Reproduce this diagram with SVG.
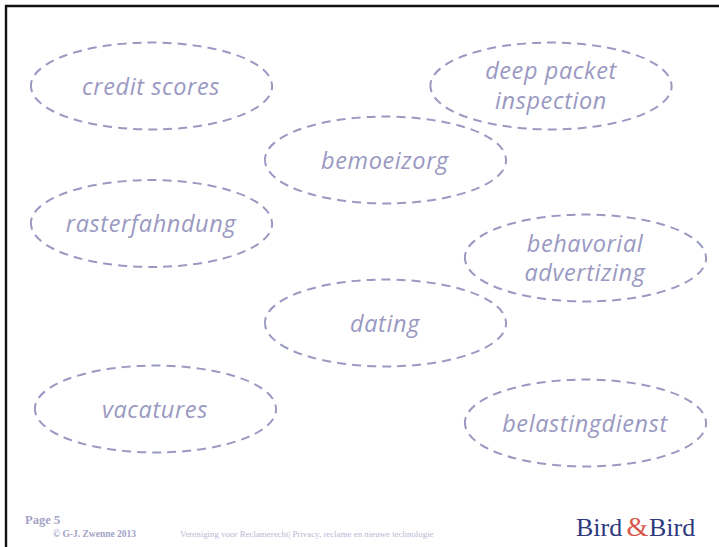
<svg xmlns="http://www.w3.org/2000/svg" width="719" height="547" viewBox="0 0 719 547">
<style>
.n{fill:none;stroke:#9a99c2;stroke-width:2;stroke-dasharray:9 6.03}
.t{font-family:"Open Sans","Noto Sans",sans-serif;font-style:italic;font-size:23.500px;fill:#9a99c2;text-anchor:middle;letter-spacing:.6px}
.s{font-family:"Liberation Serif",serif;fill:#b9b8d6}
.b{font-family:"Liberation Serif",serif;font-weight:bold;fill:#a3a2c8}
.l{font-family:"Liberation Serif",serif;font-size:26px;fill:#2f3a7e}
</style>
<rect width="719" height="547" fill="#fff"/>
<path d="M6 547V6H719" fill="none" stroke="#111" stroke-width="2.4"/>
<g id="n1"><path class="n" d="M31.300 89A120.500 43 0 1 1 271.700 83A120.500 43 0 1 1 31.300 89Z"/><text class="t" x="151" y="95">credit scores</text></g>
<g id="n2"><path class="n" d="M430.800 89A120.500 43 0 1 1 671.200 83A120.500 43 0 1 1 430.800 89Z"/><text class="t" x="551" y="79">deep packet</text><text class="t" x="551" y="109">inspection</text></g>
<g id="n3"><path class="n" d="M265.300 163A120.500 43 0 1 1 505.700 157A120.500 43 0 1 1 265.300 163Z"/><text class="t" x="385" y="169">bemoeizorg</text></g>
<g id="n4"><path class="n" d="M31.300 226.500A120.500 43 0 1 1 271.700 220.500A120.500 43 0 1 1 31.300 226.500Z"/><text class="t" x="151" y="232">rasterfahndung</text></g>
<g id="n5"><path class="n" d="M465.300 261A120.500 43 0 1 1 705.700 255A120.500 43 0 1 1 465.300 261Z"/><text class="t" x="585" y="252">behavorial</text><text class="t" x="585" y="281">advertizing</text></g>
<g id="n6"><path class="n" d="M265.300 326A120.500 43 0 1 1 505.700 320A120.500 43 0 1 1 265.300 326Z"/><text class="t" x="385" y="332">dating</text></g>
<g id="n7"><path class="n" d="M35.300 412A120.500 43 0 1 1 275.700 406A120.500 43 0 1 1 35.300 412Z"/><text class="t" x="155" y="418">vacatures</text></g>
<g id="n8"><path class="n" d="M465.300 426A120.500 43 0 1 1 705.700 420A120.500 43 0 1 1 465.300 426Z"/><text class="t" x="585" y="432">belastingdienst</text></g>
<g id="footer">
<text class="b" x="25" y="524" font-size="12.500">Page <tspan font-size="13">5</tspan></text>
<text class="b" x="53" y="537" font-size="9.500">© G-J. Zwenne 2013</text>
<text class="s" x="180" y="537" font-size="8.900">Vereniging voor Reclamerecht| Privacy, reclame en nieuwe technologie</text>
<text class="l" x="576" y="536">Bird</text>
<text x="626.500" y="536" font-family="Liberation Serif,serif" font-size="28" fill="#d9574b">&amp;</text>
<text class="l" x="649" y="536">Bird</text>
</g>
</svg>
